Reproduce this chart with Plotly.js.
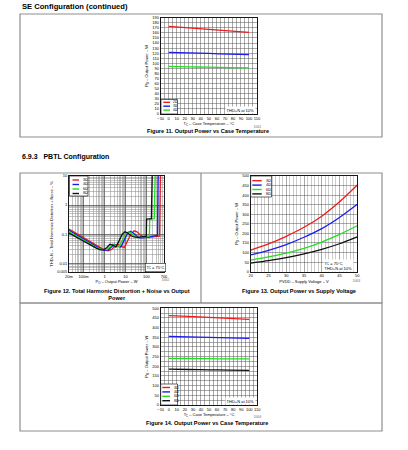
<!DOCTYPE html>
<html><head><meta charset="utf-8">
<script src="https://cdn.plot.ly/plotly-3.0.1.min.js"></script>
<style>html,body{margin:0;padding:0;background:#fff}#chart{width:408px;height:450px}</style>
</head><body><div id="chart"></div>
<script>
// ---------- Figure 11 (SE): output power vs case temperature ----------
const seTemp = [0, 25, 50, 75, 100];
const se2ohm = [173, 170, 167, 164, 161];
const se3ohm = [121.5, 120.5, 119.5, 118, 117];
const se4ohm = [94, 93, 92.5, 91.5, 91];
const seLabels = ['2Ω', '3Ω', '4Ω'];

// ---------- Figure 12 (PBTL): THD+N vs output power ----------
const thd3P = [0.02, 0.05, 0.1, 0.2, 0.4, 0.7, 1.0, 1.5, 2.2, 3.2, 4.5, 6, 9, 13, 18, 26, 36, 50, 75, 120, 250, 430, 470];
const thd3  = [0.15, 0.1, 0.073, 0.055, 0.041, 0.033, 0.029, 0.027, 0.03, 0.04, 0.045, 0.038, 0.035, 0.06, 0.1, 0.13, 0.12, 0.095, 0.078, 0.078, 0.08, 0.085, 10];
const thd4P = [0.02, 0.05, 0.1, 0.2, 0.4, 0.7, 1.0, 1.5, 2.2, 3.0, 4.2, 6, 8.5, 12, 17, 24, 32, 45, 70, 120, 250, 340, 365];
const thd4  = [0.135, 0.09, 0.066, 0.05, 0.038, 0.031, 0.028, 0.029, 0.036, 0.045, 0.038, 0.036, 0.06, 0.1, 0.125, 0.11, 0.09, 0.075, 0.075, 0.08, 0.085, 0.09, 10];
const thd6P = [0.02, 0.05, 0.1, 0.2, 0.4, 0.7, 1.0, 1.3, 1.8, 2.5, 3.5, 5, 7, 10, 14, 19, 26, 36, 55, 90, 140, 145, 240, 250, 265];
const thd6  = [0.12, 0.082, 0.06, 0.046, 0.035, 0.03, 0.029, 0.03, 0.036, 0.046, 0.04, 0.037, 0.06, 0.1, 0.122, 0.11, 0.09, 0.078, 0.078, 0.082, 0.085, 0.33, 0.34, 2, 10];
const thd8P = [0.02, 0.05, 0.1, 0.2, 0.4, 0.65, 0.9, 1.3, 1.8, 2.5, 3.5, 5, 7, 9.5, 13, 18, 25, 40, 70, 100, 103, 175, 182, 190];
const thd8  = [0.11, 0.075, 0.056, 0.043, 0.033, 0.029, 0.029, 0.035, 0.045, 0.042, 0.036, 0.06, 0.1, 0.12, 0.11, 0.09, 0.08, 0.078, 0.082, 0.085, 0.33, 0.34, 2, 10];
const thdXTicks = [0.02, 0.1, 1, 10, 100, 700];
const thdXText  = ['20m', '100m', '1', '10', '100', '700'];
const thdYTicks = [0.005, 0.01, 0.1, 1, 10];
const thdYText  = ['0.005', '0.01', '0.1', '1', '10'];

// ---------- Figure 13 (PBTL): output power vs supply voltage ----------
const pvdd  = [20, 25, 30, 35, 40, 45, 50];
const vs3ohm = [113, 145, 185, 232, 290, 365, 453];
const vs4ohm = [88, 112, 142, 180, 225, 283, 352];
const vs6ohm = [60, 77, 97, 122, 155, 195, 240];
const vs8ohm = [45, 58, 73, 93, 117, 146, 182];

// ---------- Figure 14 (PBTL): output power vs case temperature ----------
const pbTemp = [0, 25, 50, 75, 100];
const pb3ohm = [462, 458, 453, 448, 443];
const pb4ohm = [355, 352.5, 350, 347.5, 345];
const pb6ohm = [241, 240.5, 239.5, 238.5, 238];
const pb8ohm = [185, 183.5, 182, 180.5, 179];
const pbLabels = ['3Ω', '4Ω', '6Ω', '8Ω'];

const RED = '#ee1c1c', BLUE = '#1c1cee', GREEN = '#22dd22', BLACK = '#111';

// ---------- helpers ----------
const W = 408, H = 450;
const X = v => v / W;
const Y = v => 1 - v / H;
const FONT = 'Liberation Sans, Arial, sans-serif';

function tr(x, y, color, xa, ya, shape) {
  return {x: x, y: y, type: 'scatter', mode: 'lines', xaxis: xa, yaxis: ya,
    line: {color: color, width: 1.3, shape: shape || 'spline', smoothing: 0.6},
    showlegend: false, hoverinfo: 'skip'};
}

const traces = [
  tr(seTemp, se2ohm, RED, 'x', 'y'),
  tr(seTemp, se3ohm, BLUE, 'x', 'y'),
  tr(seTemp, se4ohm, GREEN, 'x', 'y'),
  tr(thd3P, thd3, RED, 'x2', 'y2', 'linear'),
  tr(thd4P, thd4, BLUE, 'x2', 'y2', 'linear'),
  tr(thd6P, thd6, GREEN, 'x2', 'y2', 'linear'),
  tr(thd8P, thd8, BLACK, 'x2', 'y2', 'linear'),
  tr(pvdd, vs3ohm, RED, 'x3', 'y3'),
  tr(pvdd, vs4ohm, BLUE, 'x3', 'y3'),
  tr(pvdd, vs6ohm, GREEN, 'x3', 'y3'),
  tr(pvdd, vs8ohm, BLACK, 'x3', 'y3'),
  tr(pbTemp, pb3ohm, RED, 'x4', 'y4'),
  tr(pbTemp, pb4ohm, BLUE, 'x4', 'y4'),
  tr(pbTemp, pb6ohm, GREEN, 'x4', 'y4'),
  tr(pbTemp, pb8ohm, BLACK, 'x4', 'y4')
];

function ax(extra) {
  return Object.assign({
    showline: true, mirror: true, linecolor: '#000', linewidth: 0.9,
    showgrid: true, gridcolor: '#555', gridwidth: 0.5, zeroline: false,
    ticks: '', tickangle: 0, tickfont: {size: 4, color: '#000', family: FONT},
    fixedrange: true
  }, extra);
}
function ttl(text, standoff) {
  return {text: text, font: {size: 4, color: '#000', family: FONT}, standoff: standoff};
}

const shapes = [];
const annotations = [];
function txt(x, y, text, size, opts) {
  annotations.push(Object.assign({xref: 'paper', yref: 'paper', x: X(x), y: Y(y), text: text,
    xanchor: 'center', yanchor: 'middle',
    showarrow: false, font: {size: size, color: '#000', family: FONT}}, opts || {}));
}
function rect(x0, y0, x1, y1, line, fill) {
  shapes.push({type: 'rect', xref: 'paper', yref: 'paper', x0: X(x0), x1: X(x1), y0: Y(y0), y1: Y(y1),
    line: line, fillcolor: fill || 'rgba(0,0,0,0)'});
}
function legendBox(x0, y0, x1, y1, rows, lx0, lx1, tx, labels, colors, fs) {
  rect(x0, y0, x1, y1, {color: '#000', width: 0.6}, '#fff');
  labels.forEach((lab, i) => {
    shapes.push({type: 'line', xref: 'paper', yref: 'paper', x0: X(lx0), x1: X(lx1), y0: Y(rows[i]), y1: Y(rows[i]),
      line: {color: colors[i], width: 1.4}});
    txt(tx, rows[i], lab, fs, {xanchor: 'left'});
  });
}

// page frames
const frame = {color: '#8e8e8e', width: 1.2};
rect(20, 14, 382, 137, frame);
rect(20, 173, 382, 303, frame);
shapes.push({type: 'line', xref: 'paper', yref: 'paper', x0: X(201), x1: X(201), y0: Y(173), y1: Y(303), line: frame});
rect(20, 303, 382, 431, frame);

// headings and captions
txt(20, 7, '<b>SE Configuration (continued)</b>', 7.6, {xanchor: 'left'});
txt(20, 157, '<b>6.9.3   PBTL Configuration</b>', 7, {xanchor: 'left'});
txt(208, 131.5, '<b>Figure 11. Output Power vs Case Temperature</b>', 5.6);
txt(117, 294, '<b>Figure 12. Total Harmonic Distortion + Noise vs Output<br>Power</b>', 5.6);
txt(299, 290.7, '<b>Figure 13. Output Power vs Supply Voltage</b>', 5.6);
txt(207, 423, '<b>Figure 14. Output Power vs Case Temperature</b>', 5.6);

// small part codes
const codeFont = {size: 3, color: '#666', family: FONT};
txt(258, 127, 'D001', 3, {font: codeFont});
txt(166, 280, 'D002', 3, {font: codeFont});
txt(357, 281, 'D003', 3, {font: codeFont});
txt(258, 417, 'D004', 3, {font: codeFont});

// legends
legendBox(161, 99.5, 177.5, 114, [102.3, 106.2, 110.1], 163.3, 170, 171, seLabels, [RED, BLUE, GREEN], 3.2);
legendBox(69.5, 176, 88, 196, [180, 184.5, 189, 193.5], 72.5, 79, 80.5, pbLabels, [RED, BLUE, GREEN, BLACK], 3.6);
legendBox(250.7, 176, 271.5, 197, [180.7, 185.1, 189.5, 193.9], 252.3, 261.7, 263.5, pbLabels, [RED, BLUE, GREEN, BLACK], 3.6);
legendBox(160.7, 384, 177.5, 405, [387.5, 391.9, 396.3, 400.7], 162.3, 170, 171.5, pbLabels, [RED, BLUE, GREEN, BLACK], 3.6);

// condition notes
txt(240.5, 109.8, 'THD+N at 10%', 4, {bgcolor: '#fff', borderpad: 0.6});
txt(155.5, 267.5, 'T<sub>C</sub> = 75°C', 4, {bgcolor: '#fff', bordercolor: '#000', borderwidth: 0.5, borderpad: 1});
txt(338, 265, 'T<sub>C</sub> = 75°C<br>THD+N at 10%', 4, {bgcolor: '#fff', borderpad: 0.6, align: 'left'});
txt(240.5, 401, 'THD+N at 10%', 4, {bgcolor: '#fff', borderpad: 0.6});

const tempGridMinor = {showgrid: true, gridcolor: '#555', gridwidth: 0.5, dtick: 5, tick0: 0};

const layout = {
  width: W, height: H,
  margin: {l: 0, r: 0, t: 0, b: 0, pad: 0},
  paper_bgcolor: '#fff', plot_bgcolor: '#fff',
  font: {family: FONT, size: 4, color: '#000'},
  showlegend: false,
  // Fig 11
  xaxis: ax({domain: [X(160.7), X(257)], anchor: 'y', range: [-10, 110], dtick: 10, tick0: 0,
    minor: tempGridMinor, title: ttl('T<sub>C</sub> – Case Temperature – °C', 2)}),
  yaxis: ax({domain: [Y(114), Y(17.7)], anchor: 'x', range: [0, 190], dtick: 10,
    title: ttl('P<sub>O</sub> – Output Power – W', 3)}),
  // Fig 12
  xaxis2: ax({domain: [X(69), X(164)], anchor: 'y2', type: 'log', range: [Math.log10(0.02), Math.log10(700)],
    tickmode: 'array', tickvals: thdXTicks, ticktext: thdXText, gridcolor: '#333',
    minor: {showgrid: true, gridcolor: '#888', gridwidth: 0.5, dtick: 'D1'},
    title: ttl('P<sub>O</sub> – Output Power – W', 2)}),
  yaxis2: ax({domain: [Y(272), Y(176)], anchor: 'x2', type: 'log', range: [Math.log10(0.005), 1],
    tickmode: 'array', tickvals: thdYTicks, ticktext: thdYText, gridcolor: '#333',
    minor: {showgrid: true, gridcolor: '#888', gridwidth: 0.5, dtick: 'D1'},
    title: ttl('THD+N – Total Harmonic Distortion + Noise – %', 3)}),
  // Fig 13
  xaxis3: ax({domain: [X(250.7), X(357.3)], anchor: 'y3', range: [20, 50], dtick: 5, tick0: 20,
    minor: {showgrid: true, gridcolor: '#999', gridwidth: 0.5, dtick: 1, tick0: 20},
    title: ttl('PVDD – Supply Voltage – V', 2)}),
  yaxis3: ax({domain: [Y(271.7), Y(176)], anchor: 'x3', range: [0, 500], dtick: 50,
    title: ttl('P<sub>O</sub> – Output Power – W', 3)}),
  // Fig 14
  xaxis4: ax({domain: [X(160.7), X(257.3)], anchor: 'y4', range: [-10, 110], dtick: 10, tick0: 0,
    minor: tempGridMinor, title: ttl('T<sub>C</sub> – Case Temperature – °C', 2)}),
  yaxis4: ax({domain: [Y(405), Y(308.3)], anchor: 'x4', range: [0, 500], dtick: 50,
    minor: {showgrid: true, gridcolor: '#555', gridwidth: 0.5, dtick: 25, tick0: 0},
    title: ttl('P<sub>O</sub> – Output Power – W', 3)}),
  shapes: shapes,
  annotations: annotations
};

Plotly.newPlot('chart', traces, layout, {staticPlot: true, displayModeBar: false});
</script></body></html>
